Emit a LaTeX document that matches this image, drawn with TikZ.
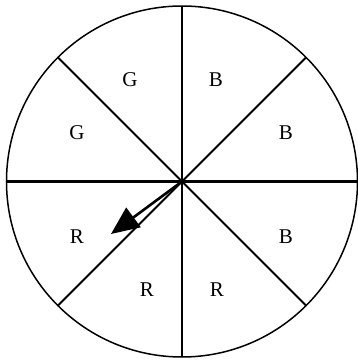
\documentclass[tikz,border=0pt]{standalone}
\usepackage{fontspec}
\setmainfont{Liberation Serif}
\usepackage{tikz}
\usetikzlibrary{arrows.meta,calc}

\begin{document}
\begin{tikzpicture}[x=1pt,y=1pt,
    spoke/.style={line width=2.1pt},
    rim/.style={line width=1.5pt},
    pointer/.style={line width=2.6pt,-{Triangle[length=28pt,width=24pt]}},
    every node/.style={font=\fontsize{21}{21}\selectfont,inner sep=0pt}]
  \useasboundingbox (-182,-178.5) rectangle (176,181.5);
  \coordinate (hub) at (0,0);
  % spokes
  \foreach \a in {0,45,...,315}
    \draw[spoke] (hub) -- (\a:175.5);
  \draw[rim] (hub) circle[radius=175.5];
  % sector labels
  \node (g1) at (-52,101.5)  {G};
  \node (b1) at (34,101.5)   {B};
  \node (g2) at (-105,48.5)  {G};
  \node (b2) at (104,48.5)   {B};
  \node (r1) at (-105,-55.5) {R};
  \node (b3) at (104,-55.5)  {B};
  \node (r2) at (-35,-108.5) {R};
  \node (r3) at (35,-108.5)  {R};
  % spinner
  \coordinate (tip) at (-71,-52.5);
  \draw[pointer] (hub) -- (tip);
\end{tikzpicture}
\end{document}
